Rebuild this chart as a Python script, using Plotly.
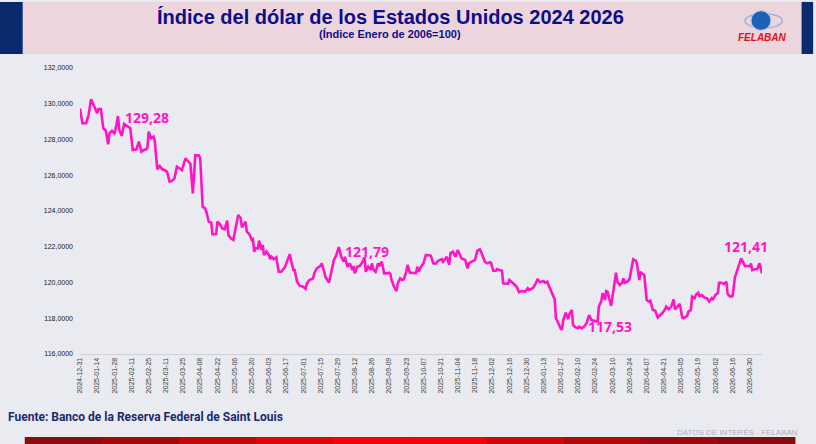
import pandas as pd
import plotly.graph_objects as go

# Índice del dólar (Índice Enero de 2006=100); días desde 2024-12-31
inicio = "2024-12-31"
dias = [0, 2, 5, 7, 9, 12, 14, 15, 17, 19, 21, 23, 24, 26, 28, 29, 31, 32, 34, 36,
        39, 41, 43, 46, 48, 50, 52, 54, 55, 56, 58, 60, 61, 63, 65, 67, 69, 71, 73, 75,
        77, 79, 81, 83, 86, 88, 90, 92, 94, 97, 98, 100, 102, 103, 105, 107, 108, 110, 111, 112,
        114, 116, 118, 120, 121, 123, 125, 127, 129, 131, 132, 135, 136, 138, 140, 141, 142, 143, 145, 146,
        148, 149, 150, 152, 154, 155, 156, 158, 160, 162, 164, 167, 169, 171, 172, 174, 175, 177, 179, 182,
        184, 185, 187, 190, 191, 193, 196, 197, 199, 200, 203, 205, 207, 209, 211, 213, 215, 216, 218, 220,
        222, 223, 224, 226, 228, 230, 232, 233, 235, 237, 238, 239, 241, 243, 244, 246, 248, 250, 252, 253,
        254, 256, 258, 259, 261, 263, 264, 266, 267, 269, 272, 274, 275, 276, 278, 280, 282, 284, 286, 288,
        290, 292, 295, 296, 299, 301, 302, 304, 306, 308, 310, 311, 314, 316, 317, 320, 322, 324, 326, 328,
        330, 332, 334, 335, 337, 339, 340, 342, 344, 345, 347, 349, 350, 352, 354, 356, 358, 360, 363, 365,
        366, 369, 370, 372, 373, 375, 378, 379, 381, 382, 384, 386, 387, 388, 390, 392, 393, 394, 396, 398,
        399, 401, 402, 404, 406, 407, 409, 411, 413, 415, 417, 418, 420, 422, 423, 425, 426, 428, 429, 430,
        433, 435, 437, 438, 440, 442, 443, 444, 446, 448, 451, 453, 454, 456, 457, 458, 460, 462, 464, 465,
        467, 469, 470, 471, 473, 475, 477, 478, 480, 482, 484, 485, 487, 489, 491, 492, 495, 496, 498, 499,
        501, 502, 504, 505, 507, 509, 511, 513, 515, 516, 518, 520, 521, 523, 525, 527, 528, 530, 532, 534,
        535, 537, 539, 541, 542, 544, 546, 547, 548, 550, 552, 554, 555, 556]
indice = [129.74, 128.91, 128.91, 129.37, 130.25, 129.83, 129.47, 129.71, 129.71, 128.63,
          128.49, 127.73, 128.35, 128.49, 128.35, 128.57, 129.31, 128.53, 128.21, 128.87,
          128.75, 128.63, 127.41, 127.45, 127.88, 127.32, 127.41, 127.45, 127.56, 128.44,
          128.07, 128.16, 127.88, 126.33, 126.52, 126.33, 126.30, 126.20, 125.64, 125.68,
          125.83, 126.48, 126.39, 126.29, 126.95, 126.81, 126.63, 124.99, 127.12, 127.10,
          126.95, 124.24, 124.15, 123.96, 123.40, 123.35, 122.70, 122.70, 122.71, 123.40,
          123.27, 123.03, 122.98, 123.46, 122.66, 122.47, 122.38, 123.09, 123.78, 123.59,
          123.09, 123.40, 122.84, 122.71, 122.38, 122.42, 121.72, 121.91, 121.91, 122.34,
          121.82, 122.10, 121.54, 121.72, 121.54, 121.31, 121.44, 121.30, 121.41, 120.60,
          120.60, 120.85, 121.22, 121.58, 121.26, 120.70, 120.70, 120.04, 119.82, 119.76,
          119.64, 119.95, 120.14, 120.23, 120.51, 120.79, 120.92, 121.07, 120.64, 120.32,
          119.99, 120.60, 121.26, 121.54, 121.98, 121.44, 121.16, 121.44, 120.88, 121.07,
          120.70, 120.92, 120.51, 120.88, 120.92, 121.11, 121.41, 120.60, 120.88, 120.70,
          121.07, 120.74, 120.60, 121.07, 120.92, 121.16, 120.51, 120.51, 120.55, 120.48,
          120.14, 119.76, 119.52, 119.95, 120.23, 120.14, 120.18, 120.60, 120.98, 120.55,
          120.55, 120.52, 120.88, 120.60, 120.88, 121.07, 121.54, 121.54, 121.50, 121.07,
          121.05, 121.22, 121.31, 121.16, 121.44, 120.98, 121.63, 121.72, 121.44, 121.82,
          121.54, 121.35, 121.26, 120.79, 121.07, 121.16, 121.26, 121.78, 121.86, 121.54,
          121.16, 121.07, 121.13, 121.11, 120.66, 120.66, 120.75, 120.70, 120.66, 119.95,
          119.95, 119.92, 120.14, 120.04, 119.90, 119.76, 119.45, 119.52, 119.49, 119.68,
          119.58, 119.68, 119.76, 120.01, 120.20, 120.01, 120.08, 119.99, 120.04, 119.86,
          119.49, 119.21, 119.08, 118.00, 117.72, 117.40, 117.40, 117.90, 118.31, 117.94,
          118.24, 118.46, 117.62, 117.49, 117.44, 117.53, 117.44, 117.53, 117.72, 118.18,
          117.90, 117.88, 117.86, 117.81, 118.65, 118.96, 119.40, 119.02, 119.52, 119.49,
          118.69, 119.68, 120.55, 120.04, 119.86, 119.99, 120.23, 119.99, 120.04, 120.18,
          121.30, 121.22, 121.07, 120.14, 120.60, 120.51, 120.42, 119.02, 118.93, 118.98,
          118.46, 118.42, 118.28, 118.05, 118.18, 118.31, 118.50, 118.65, 118.50, 118.65,
          119.06, 118.50, 118.65, 118.80, 118.03, 118.00, 118.13, 118.37, 118.46, 119.21,
          119.12, 119.30, 119.43, 119.24, 119.30, 119.15, 119.12, 118.93, 119.12, 119.06,
          119.30, 119.40, 119.99, 119.99, 119.92, 120.04, 119.36, 119.21, 119.24, 120.32,
          120.51, 120.88, 121.35, 121.07, 120.92, 120.92, 120.90, 121.07, 120.70, 120.74,
          120.74, 121.07, 120.79, 120.51]

# etiquetas de valores destacados
etiquetas = ["129,28", "121,79", "117,53", "121,41"]
etiqueta_dias = [55, 234, 432, 543]
etiqueta_valores = [129.28, 121.79, 117.53, 121.41]

fechas = pd.to_datetime(inicio) + pd.to_timedelta(dias, unit="D")
ticks = pd.date_range(inicio, "2026-06-30", freq="14D")
fin = fechas[-1]

fig = go.Figure()
fig.add_trace(go.Scatter(x=fechas, y=indice, mode="lines",
                         line=dict(color="#ff14c8", width=2.6), hoverinfo="x+y"))

desplaz = [-1, -1, 0, 11]
for txt, d, v, s in zip(etiquetas, etiqueta_dias, etiqueta_valores, desplaz):
    fig.add_annotation(x=pd.to_datetime(inicio) + pd.Timedelta(days=d), y=v, text="<b>" + txt + "</b>",
                       showarrow=False, font=dict(family="Open Sans", size=14, color="#ff14c8"),
                       yshift=s)

# banner del título
shapes = [
    dict(type="rect", xref="paper", yref="paper", x0=-0.084, x1=1.058, y0=1.049, y1=1.231,
         fillcolor="#ecd5dc", line_width=0, layer="below"),
    dict(type="rect", xref="paper", yref="paper", x0=-0.118, x1=-0.084, y0=1.049, y1=1.231,
         fillcolor="#0a2a6e", line_width=0),
    dict(type="rect", xref="paper", yref="paper", x0=1.058, x1=1.075, y0=1.049, y1=1.231,
         fillcolor="#0a2a6e", line_width=0),
    dict(type="circle", xref="paper", yref="paper", x0=0.975, x1=1.03, y0=1.14, y1=1.19,
         fillcolor="rgba(0,0,0,0)", line=dict(color="#9fb4d6", width=1.5)),
    dict(type="circle", xref="paper", yref="paper", x0=0.984, x1=1.013, y0=1.132, y1=1.2,
         fillcolor="#1c62b8", line=dict(color="#b0c4e0", width=1)),
]
# barra roja inferior
rojos = ["#8a0c0c", "#a20a0a", "#c20808", "#e00505", "#f20404", "#f20404", "#d00707", "#b00909", "#960b0b", "#860c0c"]
n = len(rojos)
for i, c in enumerate(rojos):
    x0 = -0.081 + i * (1.129 / n)
    shapes.append(dict(type="rect", xref="paper", yref="paper", x0=x0, x1=x0 + 1.129 / n + 0.001,
                       y0=-0.316, y1=-0.29, fillcolor=c, line_width=0))

fig.update_layout(
    width=816, height=444,
    margin=dict(l=80, r=54, t=68, b=90),
    paper_bgcolor="#e9ebf1", plot_bgcolor="rgba(0,0,0,0)",
    separators=",.",
    showlegend=False,
    shapes=shapes,
    xaxis=dict(type="date", range=[fechas[0], fin], tickvals=ticks, tickformat="%Y-%m-%d",
               tickangle=-90, tickfont=dict(family="Liberation Sans", size=7, color="#404040"),
               showgrid=False, showline=True, linecolor="#d0d0d6", linewidth=1,
               ticks="", zeroline=False, automargin=False),
    yaxis=dict(range=[116, 132], dtick=2, tickformat=".4f", showgrid=False,
               tickfont=dict(family="Liberation Sans", size=7, color="#202020"),
               zeroline=False, showline=False, ticks="", ticklabelstandoff=6, automargin=False),
)

fig.add_annotation(xref="paper", yref="paper", x=0.455, y=1.178, xanchor="center", yanchor="middle",
                   text="<b>Índice del dólar de los Estados Unidos 2024 2026</b>", showarrow=False,
                   font=dict(family="Liberation Sans Narrow, Liberation Sans", size=20, color="#0d0d8c"))
fig.add_annotation(xref="paper", yref="paper", x=0.455, y=1.119, xanchor="center", yanchor="middle",
                   text="<b>(Índice Enero de 2006=100)</b>", showarrow=False,
                   font=dict(family="Liberation Sans Narrow, Liberation Sans", size=11, color="#0d0d8c"))
fig.add_annotation(xref="paper", yref="paper", x=1.0, y=1.105, xanchor="center", yanchor="middle",
                   text="<b><i>FELABAN</i></b>", showarrow=False,
                   font=dict(family="Liberation Sans", size=10, color="#e01020"))
fig.add_annotation(xref="paper", yref="paper", x=-0.109, y=-0.22, xanchor="left", yanchor="middle",
                   text="<b>Fuente: Banco de la Reserva Federal de Saint Louis</b>", showarrow=False,
                   font=dict(family="Roboto", size=12, color="#1a2a6e"))
fig.add_annotation(xref="paper", yref="paper", x=1.056, y=-0.273, xanchor="right", yanchor="middle",
                   text="DATOS DE INTERÉS - FELABAN", showarrow=False,
                   font=dict(family="Liberation Sans Narrow, Liberation Sans", size=8, color="#b0b0b8"))

# sin margen de página, para que la figura ocupe toda la ventana
fig.write_html("out.html", config={"displayModeBar": False},
               post_script="document.body.style.margin='0';")
